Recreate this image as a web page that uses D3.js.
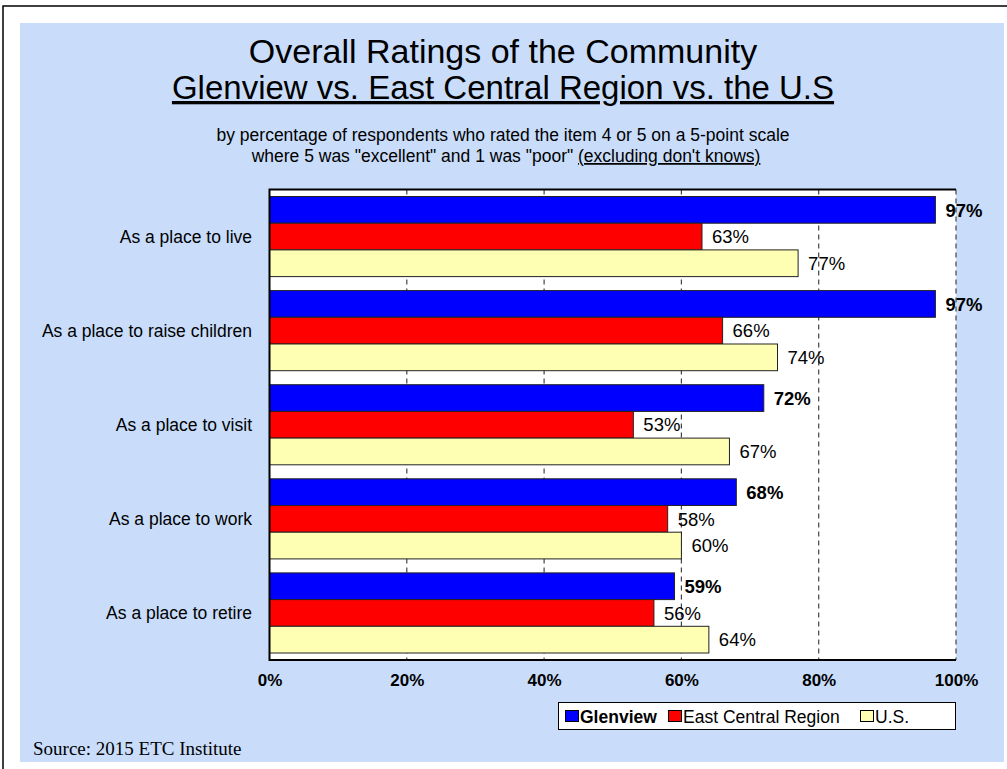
<!DOCTYPE html>
<html>
<head>
<meta charset="utf-8">
<script src="https://cdn.jsdelivr.net/npm/d3@7"></script>
<style>
  html, body { margin: 0; padding: 0; background: #fff; }
  svg { display: block; }
</style>
</head>
<body>
<svg id="chart" width="1007" height="769"></svg>
<script>
// Survey items and the share of respondents rating each 4 or 5
const categories = [
  "As a place to live",
  "As a place to raise children",
  "As a place to visit",
  "As a place to work",
  "As a place to retire"
];
const seriesNames = ["Glenview", "East Central Region", "U.S."];
const glenview = [97, 97, 72, 68, 59];
const eastCentral = [63, 66, 53, 58, 56];
const usValues = [77, 74, 67, 60, 64];
const tickValues = [0, 20, 40, 60, 80, 100];

const seriesValues = [glenview, eastCentral, usValues];
const seriesColors = ["#0000ff", "#ff0000", "#ffffb3"];
const seriesBold = [true, false, false];

const svg = d3.select("#chart");
const font = "'Liberation Sans', Arial, Helvetica, sans-serif";

// outer frame and pale blue panel
svg.append("rect").attr("x", 3).attr("y", 6).attr("width", 1020).attr("height", 780)
  .attr("fill", "#fff").attr("stroke", "#000").attr("stroke-width", 1.5);
svg.append("rect").attr("x", 20).attr("y", 23).attr("width", 984).attr("height", 739)
  .attr("fill", "#c9ddfb");

// titles
svg.append("text").attr("x", 503).attr("y", 63).attr("text-anchor", "middle")
  .attr("font-family", font).attr("font-size", 34).attr("fill", "#000")
  .text("Overall Ratings of the Community");
svg.append("text").attr("x", 503).attr("y", 99).attr("text-anchor", "middle")
  .attr("font-family", font).attr("font-size", 33).attr("fill", "#000")
  .attr("text-decoration", "underline")
  .text("Glenview vs. East Central Region vs. the U.S");

const sub = svg.append("g").attr("font-family", font).attr("font-size", 17.5).attr("fill", "#000")
  .attr("text-anchor", "middle");
sub.append("text").attr("x", 503).attr("y", 141)
  .text("by percentage of respondents who rated the item 4 or 5 on a 5-point scale");
const sub2 = sub.append("text").attr("x", 506).attr("y", 162);
sub2.append("tspan").text("where 5 was \"excellent\" and 1 was \"poor\" ");
sub2.append("tspan").attr("text-decoration", "underline").text("(excluding don't knows)");

// plot area
const plot = { left: 269.5, right: 956, top: 189.5, bottom: 660 };

const x = d3.scaleLinear().domain([0, 100]).range([plot.left, plot.right]);
const y = d3.scaleBand().domain(categories).range([plot.top, plot.bottom]).padding(0);
const inner = d3.scaleBand().domain(seriesNames)
  .range([7, y.bandwidth() - 7]).padding(0);

svg.append("rect").attr("x", plot.left).attr("y", plot.top)
  .attr("width", plot.right - plot.left).attr("height", plot.bottom - plot.top)
  .attr("fill", "#fff");

// dashed gridlines
svg.append("g").selectAll("line").data(tickValues.filter(d => d > 0)).join("line")
  .attr("x1", d => x(d)).attr("x2", d => x(d))
  .attr("y1", plot.top).attr("y2", plot.bottom)
  .attr("stroke", "#444").attr("stroke-width", 1.2)
  .attr("stroke-dasharray", "5,4");

// bars with value labels
const groups = svg.append("g").selectAll("g").data(categories).join("g")
  .attr("transform", d => `translate(0,${y(d)})`);

groups.each(function (cat, ci) {
  const g = d3.select(this);
  seriesNames.forEach((name, si) => {
    const v = seriesValues[si][ci];
    g.append("rect")
      .attr("x", x(0)).attr("y", inner(name))
      .attr("width", x(v) - x(0)).attr("height", inner.bandwidth())
      .attr("fill", seriesColors[si]).attr("stroke", "#222").attr("stroke-width", 1);
    g.append("text")
      .attr("x", x(v) + 10).attr("y", inner(name) + inner.bandwidth() / 2)
      .attr("dy", "0.36em")
      .attr("font-family", font).attr("font-size", 18.5)
      .attr("font-weight", seriesBold[si] ? "bold" : "normal")
      .attr("fill", "#000")
      .text(v + "%");
  });
});

// plot frame (top, left, bottom)
svg.append("path")
  .attr("d", `M${plot.right},${plot.top}H${plot.left}V${plot.bottom}H${plot.right}`)
  .attr("fill", "none").attr("stroke", "#000").attr("stroke-width", 2);

// category axis labels
svg.append("g").selectAll("text").data(categories).join("text")
  .attr("x", 252).attr("y", d => y(d) + y.bandwidth() / 2)
  .attr("dy", "0.35em").attr("text-anchor", "end")
  .attr("font-family", font).attr("font-size", 17.5).attr("fill", "#000")
  .text(d => d);

// value axis
const xAxis = d3.axisBottom(x).tickValues(tickValues).tickSize(0).tickPadding(14)
  .tickFormat(d => d + "%");
const axisG = svg.append("g").attr("transform", `translate(0,${plot.bottom})`).call(xAxis);
axisG.select(".domain").remove();
axisG.selectAll("text").attr("font-family", font).attr("font-size", 17)
  .attr("font-weight", "bold").attr("fill", "#000");

// legend
const legend = svg.append("g").attr("transform", "translate(558,702)");
legend.append("rect").attr("x", 0.5).attr("y", 0.5).attr("width", 397).attr("height", 27)
  .attr("fill", "#fff").attr("stroke", "#000").attr("stroke-width", 1);
const legendX = [7, 110, 302];
seriesNames.forEach((name, i) => {
  const lg = legend.append("g").attr("transform", `translate(${legendX[i]},0)`);
  lg.append("rect").attr("x", 0.5).attr("y", 8.5).attr("width", 13).attr("height", 11)
    .attr("fill", seriesColors[i]).attr("stroke", "#000").attr("stroke-width", 1);
  lg.append("text").attr("x", 15).attr("y", 14.5).attr("dy", "0.36em")
    .attr("font-family", font).attr("font-size", 17.5)
    .attr("font-weight", seriesBold[i] ? "bold" : "normal").attr("fill", "#000")
    .text(name);
});

// source note
svg.append("text").attr("x", 33).attr("y", 755)
  .attr("font-family", "'Liberation Serif', 'Times New Roman', serif")
  .attr("font-size", 19).attr("fill", "#000")
  .text("Source:  2015 ETC Institute");
</script>
</body>
</html>
